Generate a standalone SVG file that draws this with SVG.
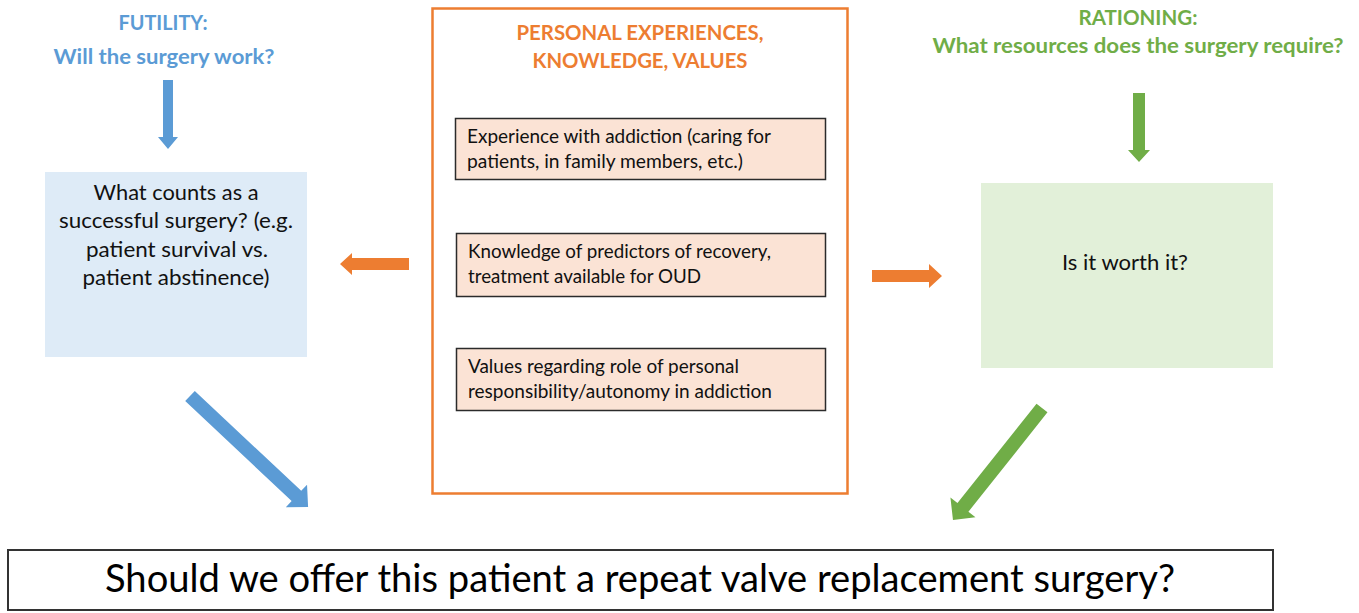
<svg xmlns="http://www.w3.org/2000/svg" width="1359" height="613" viewBox="0 0 1359 613">
  <style>
    text { font-family: Lato, "Open Sans", "Liberation Sans", sans-serif; }
    .hdr { font-weight: bold; font-size: 21px; text-anchor: middle; }
    .blue { fill: #5B9BD5; }
    .orange { fill: #ED7D31; }
    .green { fill: #70AD47; }
    .body { fill: #111; font-size: 21px; text-anchor: middle; }
    .item { fill: #111; font-size: 18.5px; }
    .peach { fill: #FBE3D5; stroke: #2b2b2b; stroke-width: 1.5; }
  </style>

  <rect width="1359" height="613" fill="#ffffff"/>

  <!-- Futility column -->
  <g id="futility-title">
    <text class="hdr blue" x="163" y="30" textLength="89" lengthAdjust="spacingAndGlyphs">FUTILITY:</text>
    <text class="hdr blue" x="164" y="64" textLength="221" lengthAdjust="spacingAndGlyphs">Will the surgery work?</text>
  </g>
  <g id="futility-box">
    <rect x="45" y="172" width="262" height="185" fill="#DEEBF7"/>
    <text class="body" x="176" y="200" textLength="165" lengthAdjust="spacingAndGlyphs">What counts as a</text>
    <text class="body" x="176" y="228" textLength="234" lengthAdjust="spacingAndGlyphs">successful surgery? (e.g.</text>
    <text class="body" x="177" y="257" textLength="182" lengthAdjust="spacingAndGlyphs">patient survival vs.</text>
    <text class="body" x="176" y="285" textLength="187" lengthAdjust="spacingAndGlyphs">patient abstinence)</text>
  </g>

  <!-- Personal experiences column -->
  <g id="personal">
    <rect x="432.5" y="8.5" width="415" height="485" fill="none" stroke="#ED7D31" stroke-width="2.5"/>
    <text class="hdr orange" x="640" y="40" textLength="247" lengthAdjust="spacingAndGlyphs">PERSONAL EXPERIENCES,</text>
    <text class="hdr orange" x="640" y="68" textLength="215" lengthAdjust="spacingAndGlyphs">KNOWLEDGE, VALUES</text>
  </g>
  <g id="experience">
    <rect class="peach" x="455.5" y="118.5" width="370" height="61"/>
    <text class="item" x="467" y="143" textLength="304" lengthAdjust="spacingAndGlyphs">Experience with addiction (caring for</text>
    <text class="item" x="467" y="168" textLength="276" lengthAdjust="spacingAndGlyphs">patients, in family members, etc.)</text>
  </g>
  <g id="knowledge">
    <rect class="peach" x="456.5" y="233.5" width="369" height="63"/>
    <text class="item" x="468" y="258" textLength="303" lengthAdjust="spacingAndGlyphs">Knowledge of predictors of recovery,</text>
    <text class="item" x="468" y="283" textLength="233" lengthAdjust="spacingAndGlyphs">treatment available for OUD</text>
  </g>
  <g id="values">
    <rect class="peach" x="456.5" y="348.5" width="369" height="62"/>
    <text class="item" x="468" y="373" textLength="271" lengthAdjust="spacingAndGlyphs">Values regarding role of personal</text>
    <text class="item" x="468" y="398" textLength="304" lengthAdjust="spacingAndGlyphs">responsibility/autonomy in addiction</text>
  </g>

  <!-- Rationing column -->
  <g id="rationing-title">
    <text class="hdr green" x="1138" y="25" textLength="119" lengthAdjust="spacingAndGlyphs">RATIONING:</text>
    <text class="hdr green" x="1138" y="53" textLength="411" lengthAdjust="spacingAndGlyphs">What resources does the surgery require?</text>
  </g>
  <g id="rationing-box">
    <rect x="981" y="183" width="292" height="185" fill="#E2F0D9"/>
    <text class="body" x="1125" y="270" textLength="126" lengthAdjust="spacingAndGlyphs">Is it worth it?</text>
  </g>

  <!-- Question -->
  <g id="question">
    <rect x="8" y="550" width="1265" height="60" fill="#ffffff" stroke="#333" stroke-width="2"/>
    <text x="640" y="592" fill="#000" font-size="38" text-anchor="middle" textLength="1070" lengthAdjust="spacingAndGlyphs">Should we offer this patient a repeat valve replacement surgery?</text>
  </g>

  <!-- Block arrows -->
  <g id="connectors">
    <!-- futility title to box -->
    <polygon fill="#5B9BD5" points="163,80 173,80 173,137 178,137 168,149 158,137 163,137"/>
    <!-- rationing title to box -->
    <polygon fill="#70AD47" points="1133,93 1145,93 1145,150 1150,150 1139,162 1128,150 1133,150"/>
    <!-- personal to futility -->
    <polygon fill="#ED7D31" points="409,258 352,258 352,253 340,264 352,275 352,270 409,270"/>
    <!-- personal to rationing -->
    <polygon fill="#ED7D31" points="872,270 929,270 929,264 942,276 929,288 929,282 872,282"/>
    <!-- futility to question -->
    <polygon fill="#5B9BD5" transform="translate(190,396) rotate(43.2)" points="0,-7 146,-7 146,-15.5 162,0 146,15.5 146,7 0,7"/>
    <!-- rationing to question -->
    <polygon fill="#70AD47" transform="translate(1042,408) rotate(128.5)" points="0,-7 127,-7 127,-16 143,0 127,16 127,7 0,7"/>
  </g>
</svg>
